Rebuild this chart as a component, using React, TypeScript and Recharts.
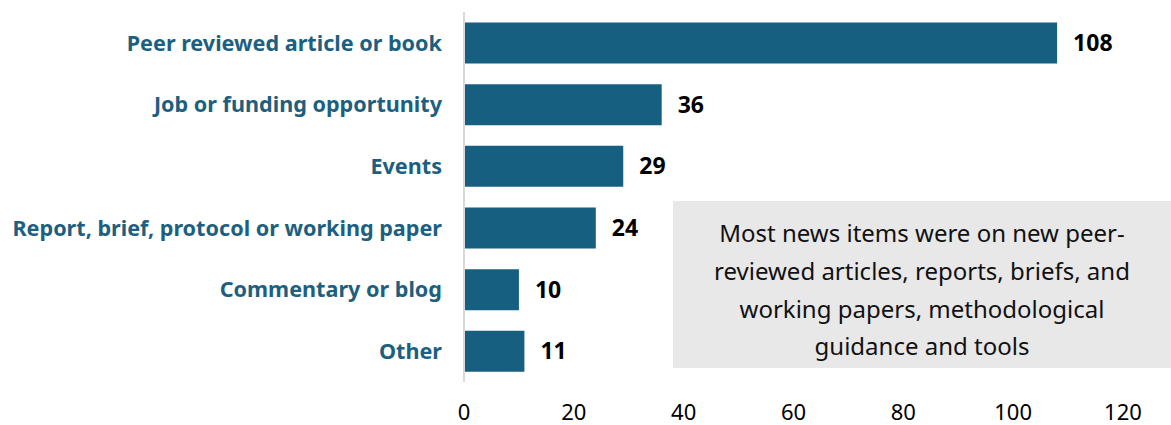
import { BarChart, Bar, XAxis, YAxis, LabelList } from "recharts";

const categories = [
  "Peer reviewed article or book",
  "Job or funding opportunity",
  "Events",
  "Report, brief, protocol or working paper",
  "Commentary or blog",
  "Other",
];
const counts = [108, 36, 29, 24, 10, 11];
const xTicks = [0, 20, 40, 60, 80, 100, 120];
const noteLines = [
  "Most news items were on new peer-",
  "reviewed articles, reports, briefs, and",
  "working papers, methodological",
  "guidance and tools",
];

const data = categories.map((name, i) => ({ name, count: counts[i] }));

const FONT = "'Noto Sans', 'Open Sans', sans-serif";
const BAR = "#175F80";

export default function App() {
  return (
    <div style={{ position: "absolute", left: 0, top: 0, width: 1171, height: 425, background: "#fff", fontFamily: FONT }}>
      <BarChart
        width={1171}
        height={425}
        data={data}
        layout="vertical"
        margin={{ top: 12, right: 48, left: 0, bottom: 3 }}
        barCategoryGap="17%"
      >
        <XAxis
          type="number"
          domain={[0, 120]}
          ticks={xTicks}
          axisLine={false}
          tickLine={false}
          tickSize={0}
          tickMargin={22}
          height={40}
          interval={0}
          tick={{ fill: "#000", fontSize: 22, fontFamily: FONT }}
        />
        <YAxis
          type="category"
          dataKey="name"
          width={464}
          tickLine={false}
          tickSize={0}
          tickMargin={22}
          axisLine={{ stroke: "#D9D9D9", strokeWidth: 2 }}
          interval={0}
          tick={{ fill: "#1D5F80", fontSize: 21.6, fontWeight: 700, fontFamily: FONT }}
        />
        <Bar dataKey="count" fill={BAR} isAnimationActive={false}>
          <LabelList
            dataKey="count"
            position="right"
            offset={16}
            fill="#000"
            fontSize={23}
            fontWeight={700}
            fontFamily={FONT}
          />
        </Bar>
      </BarChart>
      <div
        style={{
          position: "absolute",
          left: 673,
          top: 201,
          width: 498,
          height: 167,
          boxSizing: "border-box",
          paddingTop: 10,
          background: "#E8E8E8",
          display: "flex",
          flexDirection: "column",
          justifyContent: "center",
          alignItems: "center",
          fontSize: 24,
          lineHeight: "37.7px",
          color: "#111",
        }}
      >
        {noteLines.map((l) => (
          <div key={l}>{l}</div>
        ))}
      </div>
    </div>
  );
}
